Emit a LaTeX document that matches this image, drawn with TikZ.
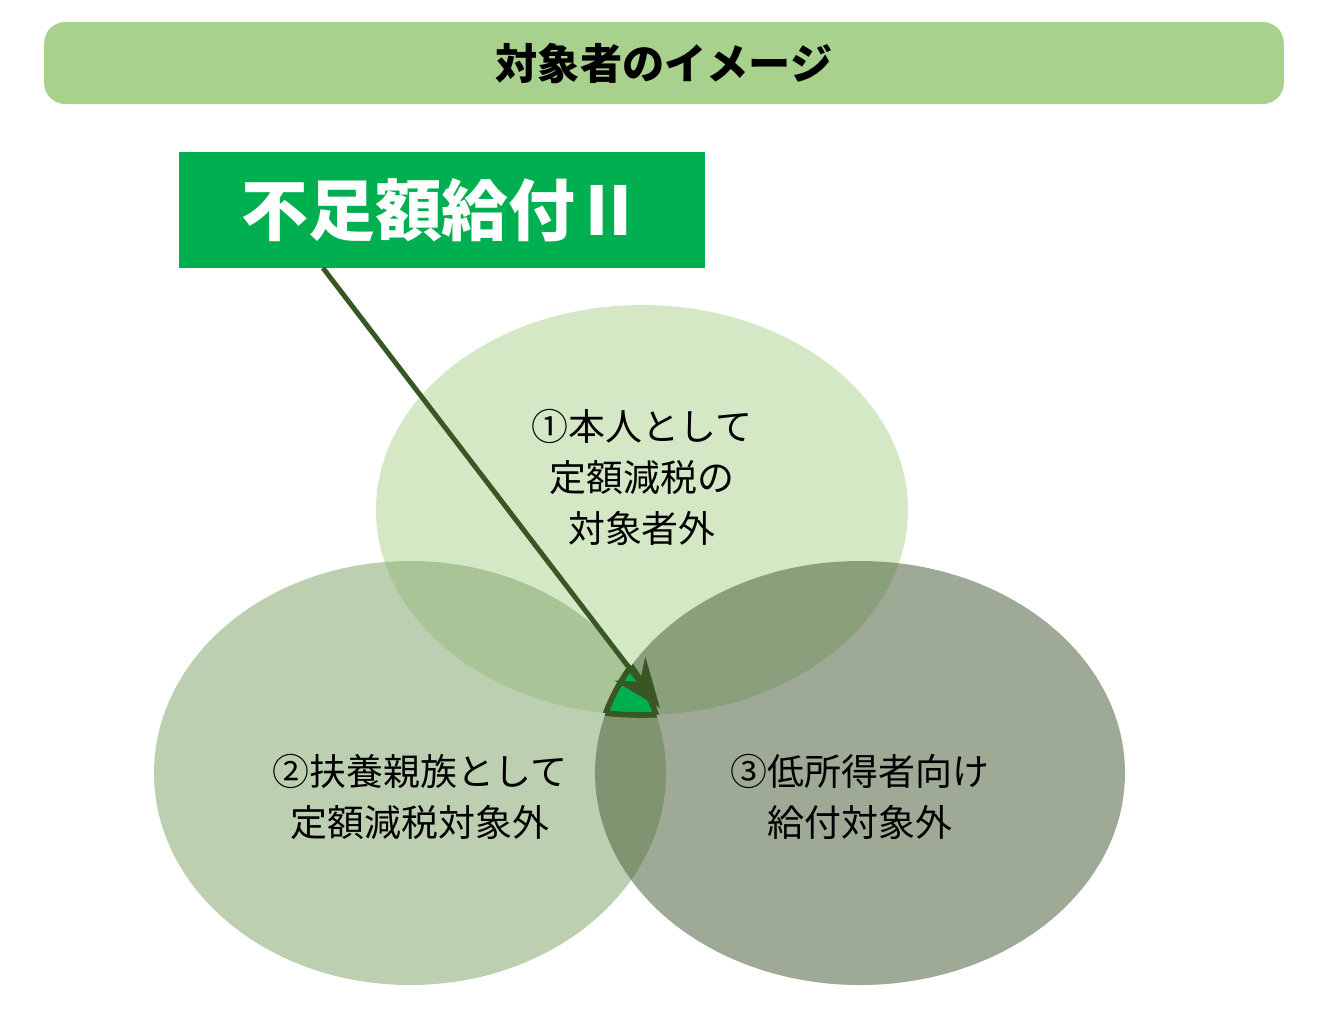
\documentclass[tikz,border=0pt]{standalone}
\usepackage{fontspec}
\setmainfont{Noto Sans CJK JP}
\usetikzlibrary{arrows.meta}
\definecolor{barGreen}{HTML}{A9D18E}
\definecolor{boxGreen}{HTML}{00B050}
\definecolor{arrowGreen}{HTML}{385723}
\tikzset{
  lbl/.style={align=center,font=\fontsize{10.5}{14.5}\selectfont},
}
\begin{document}
\begin{tikzpicture}[x=0.01cm,y=-0.01cm]
\useasboundingbox (0,0) rectangle (1329,1029);
% title bar
\node[fill=barGreen,rounded corners=6pt,minimum width=12.39cm,minimum height=0.82cm] (title) at (664,63)
  {\fontsize{12}{14}\selectfont\bfseries 対象者のイメージ};
% label box
\node[fill=boxGreen,text=white,minimum width=5.26cm,minimum height=1.16cm] (box) at (442,210)
  {\fontsize{19}{22}\selectfont\bfseries 不足額給付Ⅱ};
% circles
\fill[barGreen,opacity=0.5] (642,510) ellipse [x radius=266,y radius=205];
\fill[barGreen!80!black,opacity=0.55] (410,773) ellipse [x radius=256,y radius=212];
\fill[arrowGreen!70!gray,opacity=0.55] (860,773) ellipse [x radius=265,y radius=212];
% centre part
\begin{scope}
  \clip (642,510) ellipse [x radius=266,y radius=205];
  \clip (410,773) ellipse [x radius=256,y radius=212];
  \fill[boxGreen] (860,773) ellipse [x radius=265,y radius=212];
\end{scope}
\begin{scope}
  \clip (642,510) ellipse [x radius=266,y radius=205];
  \clip (410,773) ellipse [x radius=256,y radius=212];
  \draw[arrowGreen,line width=1.6pt] (860,773) ellipse [x radius=265,y radius=212];
\end{scope}
\begin{scope}
  \clip (642,510) ellipse [x radius=266,y radius=205];
  \clip (860,773) ellipse [x radius=265,y radius=212];
  \draw[arrowGreen,line width=1.6pt] (410,773) ellipse [x radius=256,y radius=212];
\end{scope}
\begin{scope}
  \clip (410,773) ellipse [x radius=256,y radius=212];
  \clip (860,773) ellipse [x radius=265,y radius=212];
  \draw[arrowGreen,line width=1.6pt] (642,510) ellipse [x radius=266,y radius=205];
\end{scope}
% texts
\node[lbl] (one) at (642,477) {①本人として\\定額減税の\\対象者外};
\node[lbl] (two) at (420,797) {②扶養親族として\\定額減税対象外};
\node[lbl] (three) at (860,797) {③低所得者向け\\給付対象外};
\coordinate (tip) at (660,708);
\draw[arrowGreen,line width=1.4pt,-{Stealth[length=14pt,width=11pt]}] (323,268) -- (tip);
\end{tikzpicture}
\end{document}
